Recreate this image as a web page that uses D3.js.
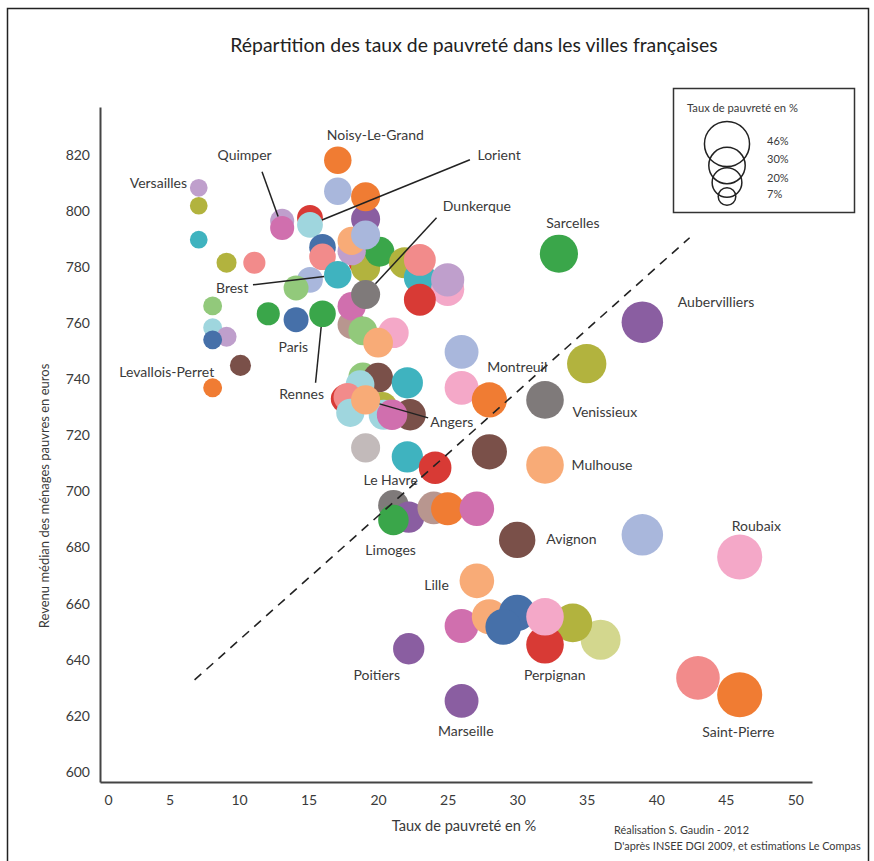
<!DOCTYPE html>
<html>
<head>
<meta charset="utf-8">
<script src="https://cdn.jsdelivr.net/npm/d3@7"></script>
<style>
body{margin:0;background:#fff}
text{font-family:Lato,"Open Sans",sans-serif;fill:#3a3a3a}
</style>
</head>
<body>
<div id="container"></div>
<script>
const title = "Répartition des taux de pauvreté dans les villes françaises"
const xLabel = "Taux de pauvreté en %"
const yLabel = "Revenu médian des ménages pauvres en euros"
const credits = ["Réalisation S. Gaudin - 2012", "D'après INSEE DGI 2009, et estimations Le Compas"]
const legendTitle = "Taux de pauvreté en %"
const legendValues = [46, 30, 20, 7]

const xTicks = [0, 5, 10, 15, 20, 25, 30, 35, 40, 45, 50]
const yTicks = [600, 620, 640, 660, 680, 700, 720, 740, 760, 780, 800, 820]

// category20-like colours, a bit faded as in the print
const palette = ["#4670a9","#a9b7dc","#f07c33","#f8ab77","#3aa64a","#92c97b","#d83a35","#f28b8b",
                 "#8a5ea1","#bf9fcc","#7a5049","#b8968f","#d06fae","#f4a8c8","#7f7a7a","#c2baba",
                 "#b2b33e","#d3d78e","#3fb3bf","#9fd6de"]

// [taux de pauvreté %, revenu médian €, couleur, ville]  (drawing order)
const dots = [
  [7.1, 808.2, 9, "Versailles"], [7.1, 801.8, 16], [7.1, 789.7, 18], [9.1, 781.5, 16], [11.1, 781.5, 7],
  [8.1, 766.1, 5], [8.1, 758.3, 19], [9.1, 755.1, 9], [8.1, 754.0, 0], [10.1, 744.9, 10],
  [8.1, 736.9, 2, "Levallois-Perret"], [12.1, 763.3, 4], [14.1, 761.2, 0, "Paris"], [16.0, 763.3, 4, "Rennes"],
  [15.1, 775.4, 1], [14.1, 772.5, 5], [13.1, 796.4, 9], [13.1, 793.9, 12, "Quimper"],
  [15.1, 797.5, 6], [15.1, 795.0, 19, "Lorient"], [17.1, 818.0, 2, "Noisy-Le-Grand"], [17.1, 807.0, 1],
  [18.9, 782.0, 6], [19.1, 779.7, 16], [20.1, 785.4, 4], [16.0, 787.0, 0], [19.1, 797.1, 8],
  [19.1, 805.0, 2], [18.1, 785.6, 9], [18.1, 789.3, 3], [19.1, 791.4, 1], [16.0, 783.6, 7],
  [17.1, 777.2, 18, "Brest"],
  [21.9, 781.5, 16], [23.0, 776.1, 18], [23.0, 782.5, 7], [25.0, 772.0, 13], [25.0, 775.4, 9], [23.0, 768.3, 6],
  [18.1, 759.4, 11], [18.1, 766.0, 12], [19.1, 770.2, 14, "Dunkerque"], [21.1, 756.5, 13], [18.9, 757.2, 5],
  [20.0, 753.0, 3],
  [26.0, 749.7, 1], [26.0, 736.9, 13], [28.0, 732.6, 2, "Montreuil"], [32.0, 732.6, 14, "Venissieux"],
  [35.0, 745.5, 16], [39.0, 760.3, 8, "Aubervilliers"], [33.0, 784.7, 4, "Sarcelles"],
  [18.9, 740.8, 5], [20.0, 740.5, 10], [22.1, 738.7, 18], [18.7, 738.0, 19], [17.6, 733.0, 6],
  [17.8, 733.6, 7], [18.0, 728.0, 19], [20.3, 730.1, 16], [20.4, 727.3, 19], [22.3, 727.3, 10],
  [21.0, 727.3, 12], [19.1, 732.6, 3, "Angers"],
  [19.1, 715.5, 15], [22.1, 712.3, 18], [24.1, 708.4, 6, "Le Havre"], [28.0, 714.1, 10], [32.0, 709.4, 3, "Mulhouse"],
  [21.1, 695.0, 14], [22.2, 690.8, 8], [21.1, 689.8, 4, "Limoges"], [24.0, 694.1, 11], [25.0, 693.8, 2],
  [27.1, 693.8, 12], [30.0, 682.7, 10, "Avignon"], [39.0, 684.5, 1], [46.0, 676.6, 13, "Roubaix"],
  [27.1, 668.1, 3, "Lille"], [26.0, 652.0, 12], [28.0, 655.3, 3], [30.0, 656.7, 0], [29.0, 651.7, 0],
  [36.0, 647.1, 17], [34.0, 653.1, 16], [32.0, 645.3, 6, "Perpignan"], [32.0, 655.3, 13],
  [22.2, 643.9, 8, "Poitiers"], [26.0, 625.3, 8, "Marseille"], [43.0, 633.5, 7], [46.0, 627.5, 2, "Saint-Pierre"]
]

// label centre, in chart units
const labels = [
  ["Noisy-Le-Grand", 19.8, 827.1], ["Quimper", 10.4, 820.0], ["Lorient", 28.7, 820.0],
  ["Versailles", 4.2, 809.8], ["Dunkerque", 27.1, 801.8], ["Sarcelles", 34.0, 795.7],
  ["Brest", 9.5, 772.5], ["Aubervilliers", 44.3, 767.6], ["Paris", 13.9, 751.5],
  ["Levallois-Perret", 4.8, 742.6], ["Montreuil", 30.0, 744.4], ["Rennes", 14.5, 734.8],
  ["Venissieux", 36.3, 728.3], ["Angers", 25.3, 724.8], ["Mulhouse", 36.1, 709.4],
  ["Le Havre", 20.9, 704.0], ["Roubaix", 47.2, 687.7], ["Avignon", 33.9, 683.1],
  ["Limoges", 20.9, 679.1], ["Lille", 24.2, 666.7], ["Perpignan", 32.7, 634.6],
  ["Poitiers", 19.9, 634.6], ["Marseille", 26.3, 614.6], ["Saint-Pierre", 45.9, 614.3]
]

// leader lines: city, start point near the label (chart units); they end on the bubble
const leaders = [
  ["Quimper", 11.65, 813.9], ["Lorient", 26.6, 818.2], ["Dunkerque", 24.2, 797.5],
  ["Brest", 11.0, 773.6], ["Rennes", 15.5, 738.7], ["Angers", 23.6, 726.2]
]

const trend = [[6.8, 632.8], [42.4, 790.4]]

const width = 874
const height = 861

const x = d3.scaleLinear().domain([0, 51.2]).range([100, 812])
const y = d3.scaleLinear().domain([596.4, 837]).range([782, 107])
const r = d3.scaleSqrt().domain([0, 50]).range([0, 23.5])

const svg = d3.select("#container").append("svg")
    .attr("width", width)
    .attr("height", height)

svg.append("rect")
   .attr("x", 7.5).attr("y", 8.5)
   .attr("width", 861).attr("height", 870)
   .attr("fill", "none").attr("stroke", "#222").attr("stroke-width", 1.5)

svg.append("text")
   .attr("x", 474).attr("y", 52)
   .attr("text-anchor", "middle")
   .style("font-size", "19.4px")
   .style("fill", "#222")
   .text(title)

/* axes */
const xAxis = d3.axisBottom(x).tickValues(xTicks).tickSize(0).tickSizeOuter(0).tickPadding(13)
const yAxis = d3.axisLeft(y).tickValues(yTicks).tickSize(0).tickSizeOuter(0).tickPadding(10)

const gx = svg.append("g")
   .attr("transform", `translate(0, ${y.range()[0]})`)
   .call(xAxis)
gx.selectAll("text").style("font-size", "14px").style("font-family", "Lato, sans-serif").attr("fill", "#3a3a3a")
  .filter(d => d === 0).attr("dx", 8)

const gy = svg.append("g")
   .attr("transform", `translate(${x.range()[0]}, 0)`)
   .call(yAxis)
gy.selectAll("text").style("font-size", "14px").style("font-family", "Lato, sans-serif").attr("fill", "#3a3a3a")

svg.selectAll(".domain").attr("stroke", "#444").attr("stroke-width", 2)

svg.append("text")
   .attr("x", 464).attr("y", 831)
   .attr("text-anchor", "middle")
   .style("font-size", "14.6px")
   .text(xLabel)

svg.append("text")
   .attr("transform", "translate(49, 496) rotate(-90)")
   .attr("text-anchor", "middle")
   .style("font-size", "13px")
   .text(yLabel)

svg.selectAll(".credit")
   .data(credits)
   .enter()
   .append("text")
   .attr("class", "credit")
   .attr("x", 614)
   .attr("y", (d, i) => 834 + i * 16)
   .style("font-size", "10.9px")
   .text(d => d)

/* bubbles */
svg.append("g")
   .selectAll("circle")
   .data(dots)
   .enter()
   .append("circle")
   .attr("cx", d => x(d[0]))
   .attr("cy", d => y(d[1]))
   .attr("r", d => r(d[0]))
   .attr("fill", d => palette[d[2]])

/* leader lines */
const byName = {}
dots.forEach(d => { if (d[3]) byName[d[3]] = d })

svg.append("g")
   .selectAll("line")
   .data(leaders)
   .enter()
   .append("line")
   .attr("x1", d => x(d[1]))
   .attr("y1", d => y(d[2]))
   .each(function(d) {
       const dot = byName[d[0]]
       const cx = x(dot[0]), cy = y(dot[1])
       const dx = x(d[1]) - cx, dy = y(d[2]) - cy
       const len = Math.sqrt(dx * dx + dy * dy)
       const k = r(dot[0]) / len
       d3.select(this).attr("x2", cx + dx * k).attr("y2", cy + dy * k)
   })
   .attr("stroke", "#222")
   .attr("stroke-width", 1.5)

/* dashed line */
svg.append("path")
   .datum(trend)
   .attr("d", d3.line().x(d => x(d[0])).y(d => y(d[1])))
   .attr("fill", "none")
   .attr("stroke", "#222")
   .attr("stroke-width", 1.6)
   .attr("stroke-dasharray", "9,7")

svg.append("g")
   .selectAll("text")
   .data(labels)
   .enter()
   .append("text")
   .attr("x", d => x(d[1]))
   .attr("y", d => y(d[2]))
   .attr("dy", "0.35em")
   .attr("text-anchor", "middle")
   .style("font-size", "14px")
   .text(d => d[0])

/* legend */
const legend = svg.append("g")
legend.append("rect")
   .attr("x", 673.5).attr("y", 88.5)
   .attr("width", 181).attr("height", 124)
   .attr("fill", "none").attr("stroke", "#333").attr("stroke-width", 1.5)
legend.append("text")
   .attr("x", 687).attr("y", 112)
   .style("font-size", "11.2px")
   .text(legendTitle)

const legendCy = [144, 165.5, 182.5, 196.5]
legend.selectAll("circle")
   .data(legendValues)
   .enter()
   .append("circle")
   .attr("cx", 727)
   .attr("cy", (d, i) => legendCy[i])
   .attr("r", d => r(d))
   .attr("fill", "none")
   .attr("stroke", "#222")
   .attr("stroke-width", 1.5)

const legendTy = [145, 163, 182, 198]
legend.selectAll(".lt")
   .data(legendValues)
   .enter()
   .append("text")
   .attr("class", "lt")
   .attr("x", 767)
   .attr("y", (d, i) => legendTy[i])
   .style("font-size", "11px")
   .text(d => d + "%")
</script>
</body>
</html>
